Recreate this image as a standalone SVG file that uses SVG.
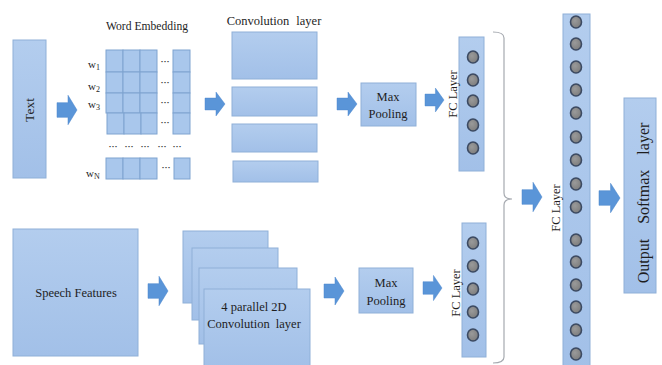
<svg xmlns="http://www.w3.org/2000/svg" width="662" height="365" viewBox="0 0 662 365">
<defs>
<linearGradient id="bg" x1="0" y1="0" x2="0" y2="1">
<stop offset="0" stop-color="#b3cdee"/>
<stop offset="1" stop-color="#a2c0e8"/>
</linearGradient>
<radialGradient id="cg" cx="0.4" cy="0.4" r="0.7">
<stop offset="0" stop-color="#9a9a9a"/>
<stop offset="1" stop-color="#7a7a7a"/>
</radialGradient>
<path id="arr" d="M0,-7 H11 V-14 L20,0 L11,14 V7 H0 Z"/>
<style>
.box{fill:url(#bg);stroke:#8fb0d8;stroke-width:1}
.cell{fill:#a9c7ec;stroke:#7fa3d0;stroke-width:1}
.t{font-family:"Liberation Serif","Times New Roman",serif;fill:#1e1e1e;font-size:12.5px;text-anchor:middle}
.ts{font-family:"Liberation Serif","Times New Roman",serif;fill:#1e1e1e;font-size:11px}
.dots{font-family:"Liberation Serif",serif;fill:#444;font-size:9px;text-anchor:middle;font-weight:bold}
.nd{fill:url(#cg);stroke:#3c4a62;stroke-width:1.6}
.a{fill:#5a95d8;stroke:#4a86cc;stroke-width:0.5}
</style>
</defs>
<rect width="662" height="365" fill="#ffffff"/>

<g id="text-input">
<rect class="box" x="13" y="40" width="33" height="138"/>
<text class="t" style="font-size:13.5px" transform="translate(34,110) rotate(-90)">Text</text>
</g>

<g id="word-embedding">
<text class="t" x="147" y="30" textLength="82" lengthAdjust="spacingAndGlyphs">Word Embedding</text>
<g>
<rect class="cell" x="106" y="50" width="17" height="22"/>
<rect class="cell" x="123" y="50" width="17" height="22"/>
<rect class="cell" x="140" y="50" width="17" height="22"/>
<rect class="cell" x="106" y="72" width="17" height="21"/>
<rect class="cell" x="123" y="72" width="17" height="21"/>
<rect class="cell" x="140" y="72" width="17" height="21"/>
<rect class="cell" x="106" y="93" width="17" height="20"/>
<rect class="cell" x="123" y="93" width="17" height="20"/>
<rect class="cell" x="140" y="93" width="17" height="20"/>
<rect class="cell" x="107" y="113" width="17" height="21"/>
<rect class="cell" x="124" y="113" width="17" height="21"/>
<rect class="cell" x="141" y="113" width="16" height="21"/>
<rect class="cell" x="173" y="50" width="17" height="22"/>
<rect class="cell" x="173" y="72" width="17" height="21"/>
<rect class="cell" x="173" y="93" width="17" height="20"/>
<rect class="cell" x="173" y="113" width="17" height="21"/>
<rect class="cell" x="106" y="158" width="17" height="21"/>
<rect class="cell" x="123" y="158" width="17" height="21"/>
<rect class="cell" x="140" y="158" width="17" height="21"/>
<rect class="cell" x="174" y="158" width="16" height="21"/>
</g>
<text class="dots" x="165" y="64">···</text>
<text class="dots" x="165" y="85">···</text>
<text class="dots" x="165" y="105">···</text>
<text class="dots" x="165" y="125">···</text>
<text class="dots" x="113" y="149">···</text>
<text class="dots" x="129" y="149">···</text>
<text class="dots" x="145" y="149">···</text>
<text class="dots" x="162" y="149">···</text>
<text class="dots" x="177" y="149">···</text>
<text class="dots" x="166" y="170">···</text>
<text class="ts" x="88" y="68">w<tspan font-size="8" dy="2">1</tspan></text>
<text class="ts" x="88" y="90">w<tspan font-size="8" dy="2">2</tspan></text>
<text class="ts" x="88" y="108">w<tspan font-size="8" dy="2">3</tspan></text>
<text class="ts" x="86" y="177">w<tspan font-size="8" dy="2">N</tspan></text>
</g>

<g id="convolution-layer">
<text class="t" x="274" y="25" word-spacing="4">Convolution layer</text>
<rect class="box" x="232" y="32" width="85" height="47"/>
<rect class="box" x="232" y="87" width="85" height="29"/>
<rect class="box" x="232" y="124" width="85" height="28"/>
<rect class="box" x="233" y="161" width="85" height="21"/>
</g>

<g id="max-pooling-1">
<rect class="box" x="361" y="83" width="55" height="43"/>
<text class="t" x="388" y="101">Max</text>
<text class="t" x="388" y="118">Pooling</text>
</g>

<g id="fc-layer-1">
<rect class="box" x="459" y="37" width="25" height="134"/>
<text class="t" transform="translate(457,94) rotate(-90)">FC Layer</text>
<ellipse class="nd" cx="473" cy="57" rx="5.5" ry="6"/>
<ellipse class="nd" cx="473" cy="80" rx="5.5" ry="6"/>
<ellipse class="nd" cx="473" cy="101" rx="5.5" ry="6"/>
<ellipse class="nd" cx="473" cy="125" rx="5.5" ry="6"/>
<ellipse class="nd" cx="473" cy="148" rx="5.5" ry="6"/>
</g>

<g id="speech-features">
<rect class="box" x="13" y="229" width="125" height="127"/>
<text class="t" x="76" y="297">Speech Features</text>
</g>

<g id="conv-2d">
<rect class="box" x="183" y="231" width="85" height="72"/>
<rect class="box" x="192" y="248" width="86" height="72"/>
<rect class="box" x="199" y="268" width="98" height="76"/>
<rect class="box" x="204" y="289" width="106" height="78"/>
<text class="t" x="254" y="311">4 parallel 2D</text>
<text class="t" x="254" y="328" word-spacing="3">Convolution layer</text>
</g>

<g id="max-pooling-2">
<rect class="box" x="359" y="268" width="54" height="45"/>
<text class="t" x="386" y="287">Max</text>
<text class="t" x="386" y="305">Pooling</text>
</g>

<g id="fc-layer-2">
<rect class="box" x="462" y="223" width="24" height="134"/>
<text class="t" transform="translate(460,293) rotate(-90)">FC Layer</text>
<ellipse class="nd" cx="473" cy="243" rx="5.5" ry="6"/>
<ellipse class="nd" cx="473" cy="266" rx="5.5" ry="6"/>
<ellipse class="nd" cx="473" cy="289" rx="5.5" ry="6"/>
<ellipse class="nd" cx="473" cy="312" rx="5.5" ry="6"/>
<ellipse class="nd" cx="473" cy="335" rx="5.5" ry="6"/>
</g>

<g id="fc-layer-big">
<rect class="box" x="563" y="14" width="27" height="360"/>
<text class="t" transform="translate(560,208) rotate(-90)">FC Layer</text>
<ellipse class="nd" cx="576" cy="22" rx="5.5" ry="6"/>
<ellipse class="nd" cx="576" cy="44" rx="5.5" ry="6"/>
<ellipse class="nd" cx="576" cy="67" rx="5.5" ry="6"/>
<ellipse class="nd" cx="576" cy="90" rx="5.5" ry="6"/>
<ellipse class="nd" cx="576" cy="113" rx="5.5" ry="6"/>
<ellipse class="nd" cx="576" cy="137" rx="5.5" ry="6"/>
<ellipse class="nd" cx="576" cy="160" rx="5.5" ry="6"/>
<ellipse class="nd" cx="576" cy="184" rx="5.5" ry="6"/>
<ellipse class="nd" cx="576" cy="207" rx="5.5" ry="6"/>
<ellipse class="nd" cx="576" cy="240" rx="5.5" ry="6"/>
<ellipse class="nd" cx="576" cy="262" rx="5.5" ry="6"/>
<ellipse class="nd" cx="576" cy="285" rx="5.5" ry="6"/>
<ellipse class="nd" cx="576" cy="307" rx="5.5" ry="6"/>
<ellipse class="nd" cx="576" cy="330" rx="5.5" ry="6"/>
<ellipse class="nd" cx="576" cy="354" rx="5.5" ry="6"/>
</g>

<g id="output-softmax">
<rect class="box" x="624" y="98" width="32" height="195"/>
<text class="t" style="font-size:16px;word-spacing:11px" transform="translate(649,203) rotate(-90)">Output Softmax layer</text>
</g>

<g id="connectors">
<use href="#arr" class="a" transform="translate(57,110) scale(1,1.05)"/>
<use href="#arr" class="a" transform="translate(205,104) scale(1,0.85)"/>
<use href="#arr" class="a" transform="translate(337,104) scale(1,0.85)"/>
<use href="#arr" class="a" transform="translate(425,100) scale(0.95,0.85)"/>
<use href="#arr" class="a" transform="translate(522,197) scale(1,1.05)"/>
<use href="#arr" class="a" transform="translate(599,198) scale(1.05,1.05)"/>
<use href="#arr" class="a" transform="translate(148,291) scale(1,1.05)"/>
<use href="#arr" class="a" transform="translate(324,291) scale(1,1)"/>
<use href="#arr" class="a" transform="translate(423,288) scale(0.95,0.9)"/>
<path d="M493,32 Q504,32 504,38 V193 Q504,199 512,199 Q504,199 504,205 V357 Q504,363 493,363" fill="none" stroke="#a6aab0" stroke-width="1.2"/>
</g>
</svg>
